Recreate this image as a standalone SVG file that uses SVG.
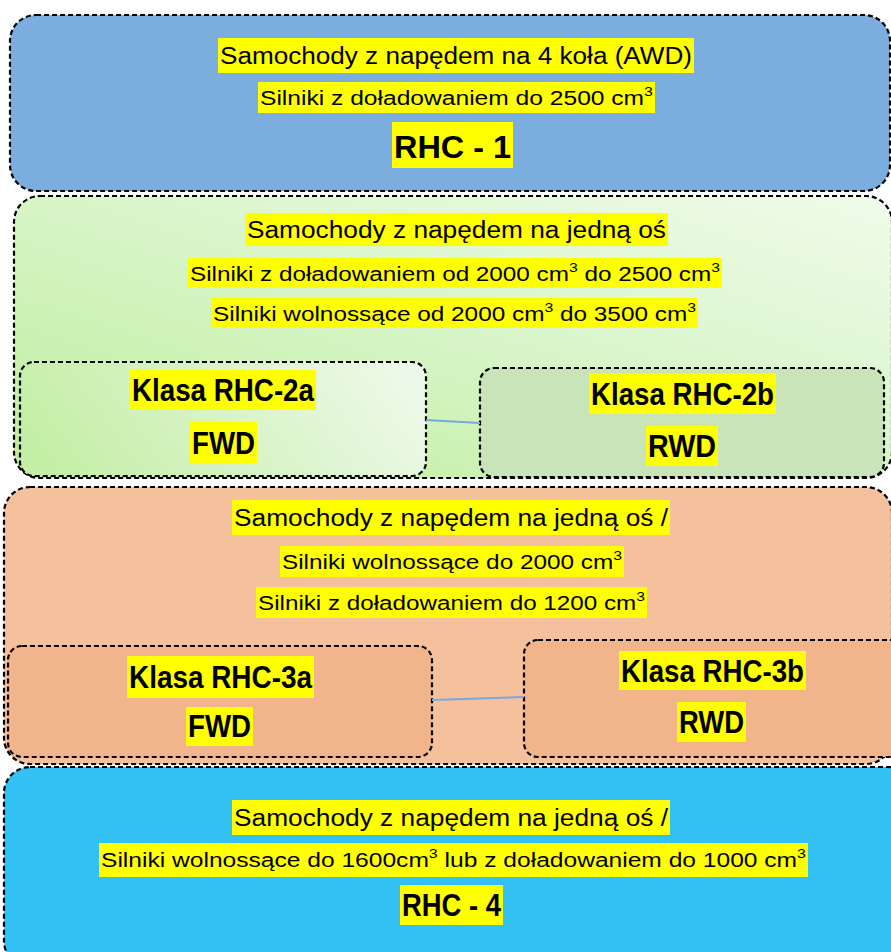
<svg xmlns="http://www.w3.org/2000/svg" width="891" height="952" viewBox="0 0 891 952">
<defs>
<linearGradient id="g2" x1="0" y1="1" x2="1" y2="0">
<stop offset="0" stop-color="#bdee9c"/>
<stop offset="0.6" stop-color="#dcf6cf"/>
<stop offset="1" stop-color="#f0fbea"/>
</linearGradient>
<linearGradient id="g2a" x1="0" y1="0.6" x2="1" y2="0.4">
<stop offset="0" stop-color="#c4eea5"/>
<stop offset="1" stop-color="#edf9e8"/>
</linearGradient>
</defs>
<style>
.box{stroke:#000;stroke-width:2.2;stroke-dasharray:5 3}
.hl{fill:#ffff00}
.t{font-family:"Liberation Sans","DejaVu Sans",sans-serif;fill:#000}
.r{font-size:23px}
.s{font-size:20px}
.b{font-size:32px;font-weight:bold}
.k{font-size:31px;font-weight:bold}
.c{stroke:#7aa9dc;stroke-width:2;fill:none}
</style>
<rect width="891" height="952" fill="#ffffff"/>

<g id="rhc1">
<rect class="box" x="10" y="15" width="880" height="176" rx="26" fill="#7badde"/>
<rect class="hl" x="218" y="38" width="476" height="35"/>
<rect class="hl" x="258" y="82" width="397" height="31"/>
<rect class="hl" x="392" y="122" width="121" height="46"/>
<text class="t r" x="220" y="64" textLength="472" lengthAdjust="spacingAndGlyphs">Samochody z napędem na 4 koła (AWD)</text>
<text class="t s" x="260" y="105" textLength="393" lengthAdjust="spacingAndGlyphs">Silniki z doładowaniem do 2500 cm<tspan font-size="13" dy="-9">3</tspan></text>
<text class="t b" x="394" y="158" textLength="117" lengthAdjust="spacingAndGlyphs">RHC - 1</text>
</g>

<g id="rhc2">
<rect class="box" x="14" y="196" width="878" height="282" rx="26" fill="url(#g2)"/>
<rect class="hl" x="245" y="213" width="423" height="33"/>
<rect class="hl" x="188" y="258" width="534" height="30"/>
<rect class="hl" x="211" y="298" width="487" height="30"/>
<text class="t r" x="247" y="238" textLength="419" lengthAdjust="spacingAndGlyphs">Samochody z napędem na jedną oś</text>
<text class="t s" x="190" y="281" textLength="530" lengthAdjust="spacingAndGlyphs">Silniki z doładowaniem od 2000 cm<tspan font-size="13" dy="-9">3</tspan><tspan dy="9"> do 2500 cm</tspan><tspan font-size="13" dy="-9">3</tspan></text>
<text class="t s" x="213" y="321" textLength="483" lengthAdjust="spacingAndGlyphs">Silniki wolnossące od 2000 cm<tspan font-size="13" dy="-9">3</tspan><tspan dy="9"> do  3500 cm</tspan><tspan font-size="13" dy="-9">3</tspan></text>
</g>

<g id="rhc2a">
<rect class="box" x="20" y="362" width="406" height="114" rx="14" fill="url(#g2a)"/>
<rect class="hl" x="130" y="370" width="186" height="40"/>
<rect class="hl" x="190" y="422" width="67" height="41"/>
<text class="t k" x="132" y="401" textLength="182" lengthAdjust="spacingAndGlyphs">Klasa RHC-2a</text>
<text class="t k" x="192" y="454" textLength="63" lengthAdjust="spacingAndGlyphs">FWD</text>
</g>

<g id="rhc2b">
<rect class="box" x="480" y="368" width="404" height="109" rx="14" fill="#c9e4b9"/>
<rect class="hl" x="589" y="373" width="187" height="41"/>
<rect class="hl" x="646" y="426" width="72" height="40"/>
<text class="t k" x="591" y="405" textLength="183" lengthAdjust="spacingAndGlyphs">Klasa RHC-2b</text>
<text class="t k" x="648" y="457" textLength="68" lengthAdjust="spacingAndGlyphs">RWD</text>
</g>

<g id="rhc3">
<rect class="box" x="4" y="487" width="888" height="277" rx="26" fill="#f5c09c"/>
<rect class="hl" x="232" y="500" width="438" height="35"/>
<rect class="hl" x="280" y="546" width="344" height="31"/>
<rect class="hl" x="256" y="587" width="391" height="31"/>
<text class="t r" x="234" y="526" textLength="434" lengthAdjust="spacingAndGlyphs">Samochody z napędem na jedną oś /</text>
<text class="t s" x="282" y="569" textLength="340" lengthAdjust="spacingAndGlyphs">Silniki wolnossące do 2000 cm<tspan font-size="13" dy="-9">3</tspan></text>
<text class="t s" x="258" y="610" textLength="387" lengthAdjust="spacingAndGlyphs">Silniki z doładowaniem do 1200 cm<tspan font-size="13" dy="-9">3</tspan></text>
</g>

<g id="rhc3a">
<rect class="box" x="8" y="646" width="424" height="111" rx="14" fill="#f2b48b"/>
<rect class="hl" x="127" y="656" width="187" height="42"/>
<rect class="hl" x="186" y="707" width="67" height="39"/>
<text class="t k" x="129" y="688" textLength="183" lengthAdjust="spacingAndGlyphs">Klasa RHC-3a</text>
<text class="t k" x="188" y="737" textLength="63" lengthAdjust="spacingAndGlyphs">FWD</text>
</g>

<g id="rhc3b">
<rect class="box" x="524" y="640" width="390" height="117" rx="14" fill="#f2b48b"/>
<rect class="hl" x="619" y="651" width="187" height="39"/>
<rect class="hl" x="677" y="702" width="69" height="40"/>
<text class="t k" x="621" y="682" textLength="183" lengthAdjust="spacingAndGlyphs">Klasa RHC-3b</text>
<text class="t k" x="679" y="733" textLength="65" lengthAdjust="spacingAndGlyphs">RWD</text>
</g>

<g id="rhc4">
<rect class="box" x="4" y="767" width="910" height="200" rx="26" fill="#33c0f2"/>
<rect class="hl" x="232" y="800" width="438" height="35"/>
<rect class="hl" x="99" y="843" width="709" height="34"/>
<rect class="hl" x="400" y="885" width="103" height="40"/>
<text class="t r" x="234" y="826" textLength="434" lengthAdjust="spacingAndGlyphs">Samochody z napędem na jedną oś /</text>
<text class="t s" x="101" y="867" textLength="705" lengthAdjust="spacingAndGlyphs">Silniki wolnossące do 1600cm<tspan font-size="13" dy="-9">3</tspan><tspan dy="9"> lub z doładowaniem do 1000 cm</tspan><tspan font-size="13" dy="-9">3</tspan></text>
<text class="t b" x="402" y="916" textLength="99" lengthAdjust="spacingAndGlyphs">RHC - 4</text>
</g>

<g id="connectors">
<line class="c" x1="426" y1="420" x2="480" y2="423"/>
<line class="c" x1="432" y1="700" x2="524" y2="697"/>
</g>
</svg>
